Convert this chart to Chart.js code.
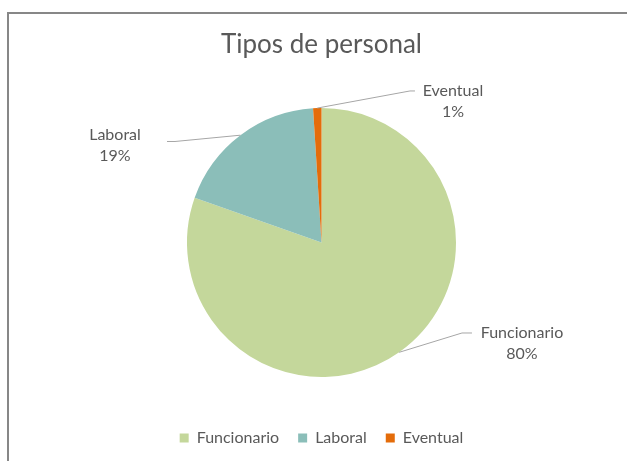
<!DOCTYPE html>
<html>
<head>
<meta charset="utf-8">
<script src="https://cdn.jsdelivr.net/npm/chart.js@4"></script>
<style>
  html, body { margin: 0; padding: 0; background: #ffffff; }
  #wrap { position: relative; width: 627px; height: 461px; overflow: hidden; }
  #frame { position: absolute; left: 7px; top: 12px; width: 700px; height: 600px; border: 2px solid #878787; box-sizing: border-box; }
  #c { position: absolute; left: 0; top: 0; }
</style>
</head>
<body>
<div id="wrap">
  <div id="frame"></div>
  <canvas id="c" width="627" height="461"></canvas>
</div>
<script>
// ---- data ----
const title = "Tipos de personal";
const categories = ["Funcionario", "Laboral", "Eventual"];
const values = [80.4, 18.6, 1.0];
const colors = ["#C4D79B", "#8BBEB9", "#E46C0A"];

// ---- label leader layout (styling, relative to the slice's outer mid-point) ----
const labelLayout = [
  { elbow: [62.8, -19.3], end: [72.8, -19.3], text: [122.8, -19.8] },
  { elbow: [-65.4, 6.3], end: [-73.4, 6.3], text: [-125.4, -0.2] },
  { elbow: [92.7, -17.1], end: [97.7, -17.1], text: [135.7, -17.1] }
];

const FONT = "Lato, 'Open Sans', sans-serif";
const TEXT = "#595959";

const outsideLabels = {
  id: "outsideLabels",
  afterDatasetsDraw(chart) {
    const ctx = chart.ctx;
    const meta = chart.getDatasetMeta(0);
    const data = chart.data.datasets[0].data;
    const total = data.reduce((a, b) => a + b, 0);
    ctx.save();
    meta.data.forEach((arc, i) => {
      const p = arc.getProps(["x", "y", "startAngle", "endAngle", "outerRadius"], true);
      const mid = (p.startAngle + p.endAngle) / 2;
      const ax = p.x + Math.cos(mid) * p.outerRadius;
      const ay = p.y + Math.sin(mid) * p.outerRadius;
      const L = labelLayout[i];
      ctx.strokeStyle = "#A6A6A6";
      ctx.lineWidth = 1;
      ctx.beginPath();
      ctx.moveTo(ax, ay);
      ctx.lineTo(ax + L.elbow[0], ay + L.elbow[1]);
      ctx.lineTo(ax + L.end[0], ay + L.end[1]);
      ctx.stroke();
      ctx.fillStyle = TEXT;
      ctx.font = "16px " + FONT;
      ctx.textAlign = "center";
      ctx.textBaseline = "middle";
      const tx = ax + L.text[0], ty = ay + L.text[1];
      ctx.fillText(chart.data.labels[i], tx, ty);
      ctx.fillText(Math.round(data[i] / total * 100) + "%", tx, ty + 21);
    });
    ctx.restore();
  }
};

new Chart(document.getElementById("c"), {
  type: "pie",
  data: {
    labels: categories,
    datasets: [{
      data: values,
      backgroundColor: colors,
      borderWidth: 0,
      radius: 134.5,
      hoverOffset: 0
    }]
  },
  options: {
    responsive: false,
    animation: false,
    events: [],
    layout: { padding: { left: 16, right: 0, top: 0, bottom: 5 } },
    plugins: {
      title: {
        display: true,
        text: title,
        color: TEXT,
        font: { family: FONT, size: 26, weight: "normal" },
        padding: { top: 29.4, bottom: 13.4 }
      },
      legend: {
        display: true,
        position: "bottom",
        labels: {
          color: TEXT,
          boxWidth: 9,
          boxHeight: 9,
          padding: 19,
          font: { family: FONT, size: 16 }
        }
      },
      tooltip: { enabled: false }
    }
  },
  plugins: [outsideLabels]
});
</script>
</body>
</html>
